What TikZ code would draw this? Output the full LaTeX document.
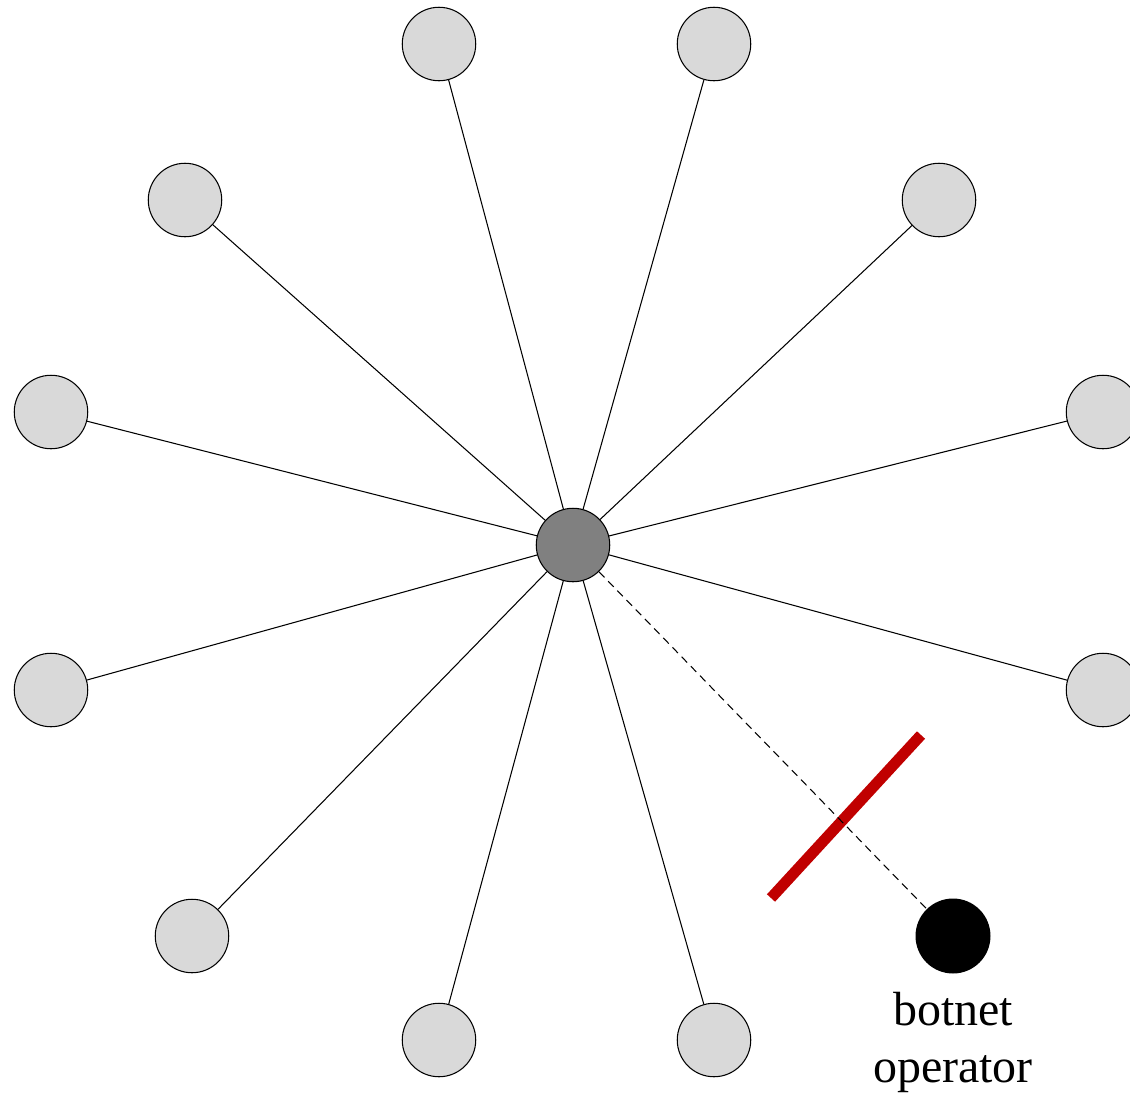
\documentclass[tikz,border=0pt]{standalone}
\usepackage{fontspec}
\setmainfont{Liberation Serif}
\usetikzlibrary{positioning}
\definecolor{botgray}{HTML}{D9D9D9}
\definecolor{ccgray}{HTML}{808080}
\definecolor{cutred}{HTML}{C00000}
\begin{document}
\begin{tikzpicture}[x=0.02cm,y=-0.02cm,line width=0.6pt,
 bot/.style={circle,draw,fill=botgray,minimum size=1.47cm,inner sep=0pt},
 cc/.style={bot,fill=ccgray},
 op/.style={circle,fill=black,minimum size=1.5cm,inner sep=0pt}]

\useasboundingbox (0,0) rectangle (1130,1093);

\node[cc] (cc) at (573,545) {};

\foreach \x/\y [count=\i] in {439/44,714/44,185/200,939/200,51/412,1103/412,51/690,1103/690,192/936,439/1040,714/1040}{
\node[bot] (bot\i) at (\x,\y) {};
\draw (bot\i) -- (cc);
}

\node[op] (op) at (953,936) {};
\node[below=0.36cm of op,inner sep=0pt,align=center,font=\fontsize{27.3}{32.4}\selectfont] (oplabel) {botnet\\operator};

\coordinate (cut1) at (771,898);
\coordinate (cut2) at (921,735);
\draw[cutred,line width=0.22cm] (cut1) -- (cut2);

\draw[dash pattern=on 4.5pt off 3pt] (cc) -- (op);

\end{tikzpicture}
\end{document}
